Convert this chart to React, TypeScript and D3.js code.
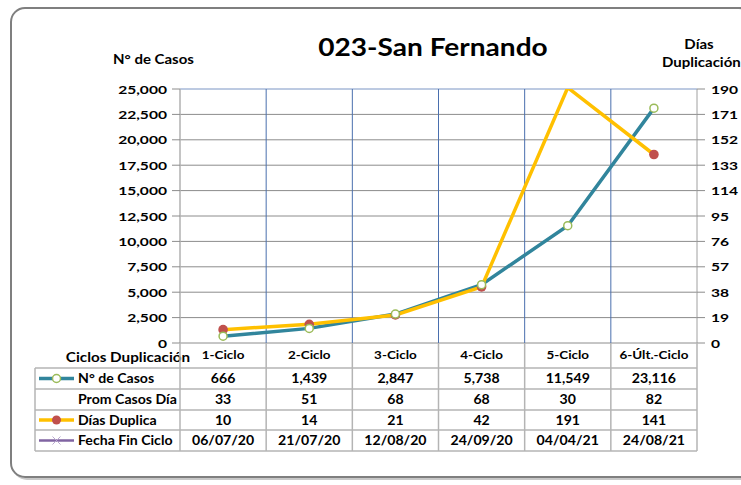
import * as d3 from 'd3';

const categories = ['1-Ciclo', '2-Ciclo', '3-Ciclo', '4-Ciclo', '5-Ciclo', '6-Últ.-Ciclo'];
const casos = [666, 1439, 2847, 5738, 11549, 23116];
const promCasos = [33, 51, 68, 68, 30, 82];
const diasDuplica = [10, 14, 21, 42, 191, 141];
const fechaFin = ['06/07/20', '21/07/20', '12/08/20', '24/09/20', '04/04/21', '24/08/21'];
const leftTicks = [0, 2500, 5000, 7500, 10000, 12500, 15000, 17500, 20000, 22500, 25000];
const rightTicks = [0, 19, 38, 57, 76, 95, 114, 133, 152, 171, 190];

const W = 741;
const H = 485;
const font = 'Lato, "Open Sans", sans-serif';
const plot = { left: 180, right: 697, top: 89, bottom: 343 };
const rowY = [368, 389, 410, 430, 451];
const tableLeft = 35;

const TEAL = '#31859C';
const GREEN = '#9BBB59';
const GOLD = '#FFC000';
const RED = '#C0504D';
const PURPLE = '#8064A2';

// the source image is stretched sideways, so text is widened a bit
function T({ x, y, size = 12.5, sx = 1.25, anchor = 'start', children }: any) {
  return (
    <text transform={`translate(${x},${y}) scale(${sx},1)`} textAnchor={anchor} fontSize={size}>
      {children}
    </text>
  );
}

export default function App() {
  const x = d3.scaleBand<string>().domain(categories).range([plot.left, plot.right]);
  const yL = d3.scaleLinear().domain([0, 25000]).range([plot.bottom, plot.top]);
  const yR = d3.scaleLinear().domain([0, 190]).range([plot.bottom, plot.top]);
  const cx = (c: string) => (x(c) ?? 0) + x.bandwidth() / 2;

  const lineCasos = d3
    .line<number>()
    .x((_, i) => cx(categories[i]))
    .y(d => yL(d));
  const lineDias = d3
    .line<number>()
    .x((_, i) => cx(categories[i]))
    .y(d => yR(d));

  const fmt = d3.format(',');
  const rows = [
    { label: 'N° de Casos', values: casos.map(fmt), key: 'casos' },
    { label: 'Prom Casos Día', values: promCasos.map(String), key: 'none' },
    { label: 'Días Duplica', values: diasDuplica.map(String), key: 'dias' },
    { label: 'Fecha Fin Ciclo', values: fechaFin, key: 'fecha' },
  ];
  const colEdges = [...categories.map(c => x(c) ?? 0), plot.right];

  return (
    <svg
      width={W}
      height={H}
      style={{ position: 'absolute', left: 0, top: 0, background: '#fff' }}
      fontFamily={font}
      fontWeight="bold"
    >
      <defs>
        <clipPath id="plotClip">
          <rect x={plot.left} y={plot.top} width={plot.right - plot.left} height={plot.bottom - plot.top} />
        </clipPath>
      </defs>

      {/* outer frame */}
      <rect x={13} y={10} width={742} height={469} rx={14} fill="none" stroke="#c8c8c8" strokeWidth={2} />
      <rect x={11} y={8} width={742} height={469} rx={14} fill="#fff" stroke="#7f7f7f" strokeWidth={2} />

      {/* titles */}
      <T x={433} y={56} size={24} sx={1.17} anchor="middle">023-San Fernando</T>
      <T x={113} y={64} size={12.5} sx={1.2}>N° de Casos</T>
      <T x={699} y={49} size={12.5} sx={1.2} anchor="middle">Días</T>
      <T x={662} y={67} size={12.5} sx={1.2}>Duplicación</T>

      {/* horizontal gridlines */}
      {leftTicks.map(t => (
        <line key={t} x1={plot.left} x2={plot.right} y1={yL(t)} y2={yL(t)}
          stroke={t === 25000 ? '#7a95c4' : '#8c8c8c'} strokeWidth={1} />
      ))}
      {/* vertical gridlines */}
      {categories.slice(1).map(c => (
        <line key={c} x1={x(c)} x2={x(c)} y1={plot.top} y2={plot.bottom} stroke="#4a6fae" strokeWidth={1} />
      ))}

      {/* left axis */}
      <line x1={plot.left} x2={plot.left} y1={plot.top} y2={plot.bottom} stroke="#b0b0b0" strokeWidth={1.5} />
      {leftTicks.map(t => (
        <g key={t}>
          <line x1={plot.left - 8} x2={plot.left} y1={yL(t)} y2={yL(t)} stroke="#8c8c8c" />
          <T x={167} y={yL(t) + 4.5} size={12} sx={1.3} anchor="end">{fmt(t)}</T>
        </g>
      ))}

      {/* right axis */}
      <line x1={plot.right} x2={plot.right} y1={plot.top} y2={plot.bottom} stroke="#a0a0a0" strokeWidth={1} />
      {rightTicks.map(t => (
        <g key={t}>
          <line x1={plot.right} x2={plot.right + 8} y1={yR(t)} y2={yR(t)} stroke="#8c8c8c" />
          <T x={711} y={yR(t) + 4.5} size={12} sx={1.3}>{t}</T>
        </g>
      ))}

      {/* series */}
      <g clipPath="url(#plotClip)">
        <path d={lineCasos(casos) ?? ''} fill="none" stroke={TEAL} strokeWidth={3.5} />
        <path d={lineDias(diasDuplica) ?? ''} fill="none" stroke={GOLD} strokeWidth={3.5} />
      </g>
      {diasDuplica.map((d, i) =>
        d <= 190 ? <circle key={i} cx={cx(categories[i])} cy={yR(d)} r={4.8} fill={RED} /> : null
      )}
      {casos.map((d, i) => (
        <circle key={i} cx={cx(categories[i])} cy={yL(d)} r={4} fill="#fff" stroke={GREEN} strokeWidth={1.5} />
      ))}

      {/* data table header */}
      <T x={128} y={362} size={12.5} sx={1.22} anchor="middle">Ciclos Duplicación</T>
      {categories.map(c => (
        <T key={c} x={cx(c)} y={359} size={12} sx={1.12} anchor="middle">{c}</T>
      ))}
      {colEdges.map((e, i) => (
        <line key={i} x1={e} x2={e} y1={plot.bottom} y2={rowY[4]} stroke="#b4b4b4" strokeWidth={1.5} />
      ))}
      {rowY.map((y, i) => (
        <line key={i} x1={tableLeft} x2={plot.right} y1={y} y2={y} stroke="#b4b4b4" strokeWidth={1.5} />
      ))}
      <line x1={tableLeft} x2={tableLeft} y1={rowY[0]} y2={rowY[4]} stroke="#b4b4b4" strokeWidth={1.5} />

      {rows.map((r, ri) => {
        const y0 = rowY[ri];
        const y1 = rowY[ri + 1];
        const mid = (y0 + y1) / 2;
        return (
          <g key={r.label}>
            {r.key === 'casos' && (
              <g>
                <line x1={39} x2={74} y1={mid} y2={mid} stroke={TEAL} strokeWidth={3.5} />
                <circle cx={56.5} cy={mid} r={4} fill="#fff" stroke={GREEN} strokeWidth={1.5} />
              </g>
            )}
            {r.key === 'dias' && (
              <g>
                <line x1={39} x2={74} y1={mid} y2={mid} stroke={GOLD} strokeWidth={3.5} />
                <circle cx={56.5} cy={mid} r={4.5} fill={RED} />
              </g>
            )}
            {r.key === 'fecha' && (
              <g>
                <line x1={39} x2={74} y1={mid} y2={mid} stroke={PURPLE} strokeWidth={2.5} />
                <path d={`M${52.5},${mid - 4}L${60.5},${mid + 4}M${52.5},${mid + 4}L${60.5},${mid - 4}`}
                  stroke="#b9a9d0" strokeWidth={1} />
              </g>
            )}
            <T x={78} y={mid + 4.5} size={12.5} sx={1.13}>{r.label}</T>
            {r.values.map((v, i) => (
              <T key={i} x={cx(categories[i])} y={mid + 4.5} size={12.5} sx={1.13} anchor="middle">{v}</T>
            ))}
          </g>
        );
      })}
    </svg>
  );
}
